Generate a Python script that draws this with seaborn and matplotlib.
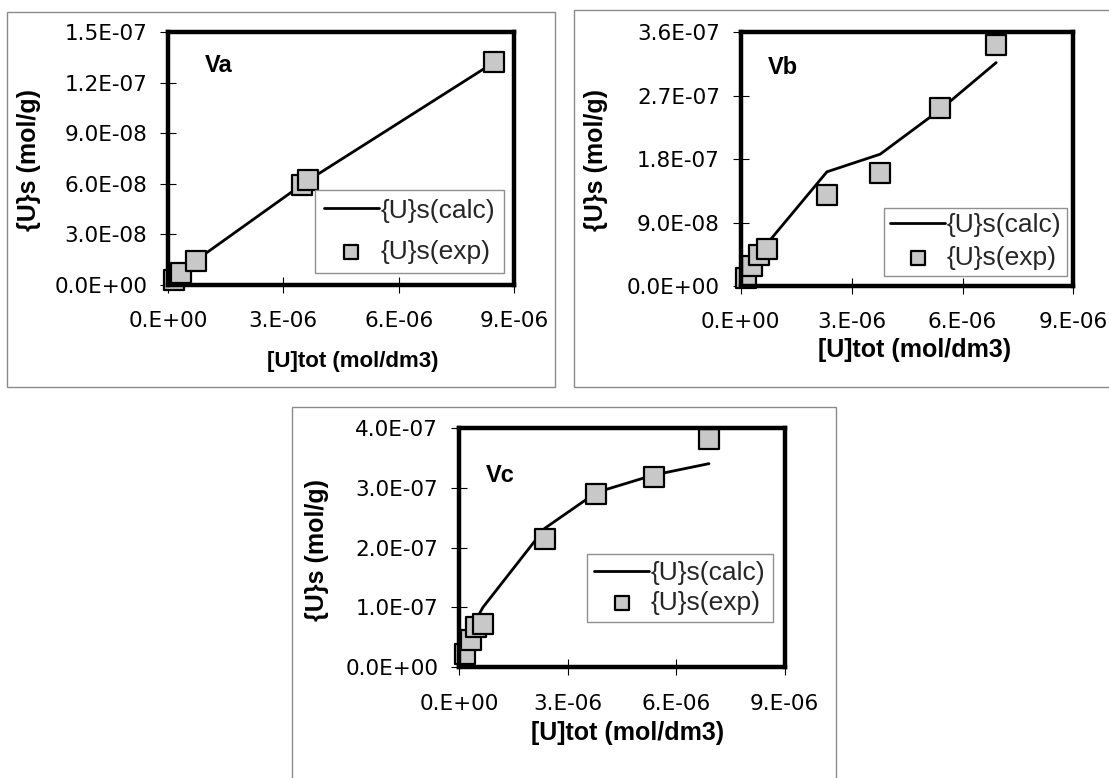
import matplotlib
matplotlib.use("Agg")
import matplotlib.pyplot as plt
from matplotlib.patches import Rectangle
import seaborn as sns
import pandas as pd

# ---------------- data ----------------
va_x_exp = [0.15e-6, 0.34e-6, 0.72e-6, 3.48e-6, 3.64e-6, 8.47e-6]
va_y_exp = [0.30e-8, 0.70e-8, 1.40e-8, 5.94e-8, 6.23e-8, 13.26e-8]
va_x_calc = [0.15e-6, 0.34e-6, 0.72e-6, 3.48e-6, 3.64e-6, 8.47e-6]
va_y_calc = [0.35e-8, 0.75e-8, 1.45e-8, 5.95e-8, 6.20e-8, 13.20e-8]

vb_x_exp = [0.14e-6, 0.31e-6, 0.49e-6, 0.71e-6, 2.33e-6, 3.77e-6, 5.39e-6, 6.91e-6]
vb_y_exp = [1.1e-8, 2.8e-8, 4.4e-8, 5.2e-8, 12.9e-8, 16.0e-8, 25.2e-8, 34.2e-8]
vb_x_calc = [0.14e-6, 0.31e-6, 0.49e-6, 0.71e-6, 2.33e-6, 3.77e-6, 5.39e-6, 6.91e-6]
vb_y_calc = [1.3e-8, 2.9e-8, 4.6e-8, 6.0e-8, 16.2e-8, 18.7e-8, 25.0e-8, 31.7e-8]

vc_x_exp = [0.17e-6, 0.32e-6, 0.46e-6, 0.66e-6, 2.37e-6, 3.80e-6, 5.38e-6, 6.91e-6]
vc_y_exp = [2.3e-8, 4.6e-8, 6.8e-8, 7.3e-8, 21.5e-8, 28.9e-8, 31.7e-8, 38.1e-8]
vc_x_calc = [0.17e-6, 0.32e-6, 0.46e-6, 0.66e-6, 2.37e-6, 3.80e-6, 5.38e-6, 6.91e-6]
vc_y_calc = [3.0e-8, 5.5e-8, 7.8e-8, 10.0e-8, 23.2e-8, 29.2e-8, 32.1e-8, 34.0e-8]

x_ticks = [0, 3e-6, 6e-6, 9e-6]
x_tick_labels = ["0.E+00", "3.E-06", "6.E-06", "9.E-06"]
va_y_ticks = [0, 3e-8, 6e-8, 9e-8, 1.2e-7, 1.5e-7]
va_y_tick_labels = ["0.0E+00", "3.0E-08", "6.0E-08", "9.0E-08", "1.2E-07", "1.5E-07"]
vb_y_ticks = [0, 9e-8, 1.8e-7, 2.7e-7, 3.6e-7]
vb_y_tick_labels = ["0.0E+00", "9.0E-08", "1.8E-07", "2.7E-07", "3.6E-07"]
vc_y_ticks = [0, 1e-7, 2e-7, 3e-7, 4e-7]
vc_y_tick_labels = ["0.0E+00", "1.0E-07", "2.0E-07", "3.0E-07", "4.0E-07"]

panel_names = ["Va", "Vb", "Vc"]
calc_label = "{U}s(calc)"
exp_label = "{U}s(exp)"
x_label = "[U]tot (mol/dm3)"
y_label = "{U}s (mol/g)"

# ---------------- style ----------------
sns.set_theme(style="white")
plt.rcParams["font.family"] = ["Liberation Sans", "DejaVu Sans"]

W, H = 1109, 778
fig = plt.figure(figsize=(W / 100, H / 100), dpi=100)
fig.patch.set_facecolor("white")


def fx(px):
    return px / W


def fy(py):
    return 1 - py / H


# outer frames (px: x0, ytop, x1, ybottom)
frames = [(7, 12, 555, 387), (574, 10, 1112, 387), (292, 407, 836, 782)]
for (x0, y0, x1, y1) in frames:
    fig.add_artist(Rectangle((fx(x0), fy(y1)), fx(x1 - x0), (y1 - y0) / H,
                             transform=fig.transFigure, fill=False,
                             edgecolor="#8a8a8a", lw=1.0))

# axes boxes (px: left, top, right, bottom)
boxes = [(168, 32.3, 514, 285), (740.8, 32.3, 1073.4, 286), (459, 427.7, 784.6, 667.3)]

panels = [
    (va_x_exp, va_y_exp, va_x_calc, va_y_calc, va_y_ticks, va_y_tick_labels, 1.5e-7),
    (vb_x_exp, vb_y_exp, vb_x_calc, vb_y_calc, vb_y_ticks, vb_y_tick_labels, 3.6e-7),
    (vc_x_exp, vc_y_exp, vc_x_calc, vc_y_calc, vc_y_ticks, vc_y_tick_labels, 4.0e-7),
]

legend_anchor = [(0.97, 0.047), (0.981, 0.04), (0.963, 0.188)]
legend_spacing = [0.67, 0.33, 0.23]
legend_pad = [0.33, 0.22, 0.27]
name_pos = [(0.107, 0.87), (0.08, 0.86), (0.083, 0.80)]

xlabel_pos = [(352.7, 361.7, 16), (915, 350, 18), (627.6, 733, 18)]
ylabel_pos = [(28.6, 160, 18), (595.8, 160, 18), (316.8, 550, 18)]

for i, (xe, ye, xc, yc, yt, ytl, ymax) in enumerate(panels):
    l, t, r, b = boxes[i]
    ax = fig.add_axes([fx(l), fy(b), fx(r - l), (b - t) / H])
    ax.set_facecolor("white")

    dcalc = pd.DataFrame({"x": xc, "y": yc})
    dexp = pd.DataFrame({"x": xe, "y": ye})
    sns.lineplot(data=dcalc, x="x", y="y", ax=ax, color="black", lw=2.0,
                 sort=False, label=calc_label, zorder=2)
    sns.scatterplot(data=dexp, x="x", y="y", ax=ax, marker="s", s=200,
                    color="#c8c8c8", edgecolor="black", linewidth=1.6,
                    label=exp_label, zorder=3, clip_on=False)

    ax.set_xlim(0, 9e-6)
    ax.set_ylim(0, ymax)
    ax.set_xticks(x_ticks)
    ax.set_xticklabels(x_tick_labels)
    ax.set_yticks(yt)
    ax.set_yticklabels(ytl)
    ax.set_xlabel("")
    ax.set_ylabel("")
    for lab in ax.get_xticklabels() + ax.get_yticklabels():
        lab.set_fontfamily("DejaVu Sans")
        lab.set_fontsize(15.5)
        lab.set_color("black")
    ax.tick_params(axis="both", direction="inout", length=12, width=0.8,
                   color="black", bottom=True, left=True)
    ax.tick_params(axis="y", pad=9)
    ax.tick_params(axis="x", pad=13)
    for sp in ax.spines.values():
        sp.set_visible(True)
        sp.set_linewidth(3.2)
        sp.set_color("black")
        sp.set_zorder(4)

    handles, labels = ax.get_legend_handles_labels()
    leg = ax.legend(handles, labels, loc="lower right",
                    bbox_to_anchor=legend_anchor[i], frameon=True,
                    fancybox=False, edgecolor="#909090", framealpha=1,
                    borderaxespad=0, handlelength=2.1, handletextpad=0.05,
                    markerscale=0.72, labelspacing=legend_spacing[i],
                    borderpad=legend_pad[i],
                    prop={"family": "Liberation Sans", "size": 19})
    leg.get_frame().set_linewidth(1.0)
    leg.set_zorder(5)

    ax.text(name_pos[i][0], name_pos[i][1], panel_names[i], transform=ax.transAxes,
            ha="left", va="center", fontsize=17, fontweight="bold", color="black")

    xl = xlabel_pos[i]
    fig.text(fx(xl[0]), fy(xl[1]), x_label, ha="center", va="center",
             fontsize=xl[2], fontweight="bold", color="black")
    yl = ylabel_pos[i]
    fig.text(fx(yl[0]), fy(yl[1]), y_label, ha="center", va="center",
             rotation=90, fontsize=yl[2], fontweight="bold", color="black")

fig.savefig("out.png", dpi=100, facecolor="white")
